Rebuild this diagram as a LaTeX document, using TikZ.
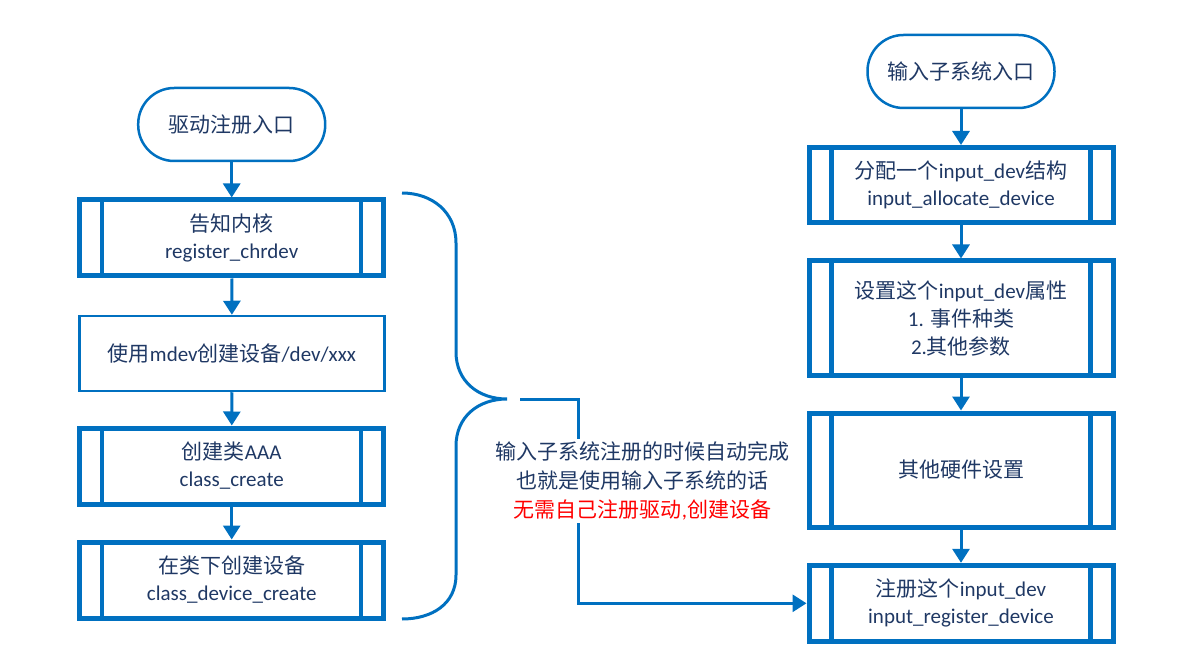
\documentclass[tikz,border=0pt]{standalone}
\usepackage{fontspec}
\setmainfont{Carlito}
\newfontfamily\cjk{Noto Sans CJK SC}
\usetikzlibrary{arrows.meta}
\definecolor{lineblue}{RGB}{0,112,192}
\definecolor{txt}{RGB}{31,56,100}
\newcommand\zh[1]{{\cjk #1}}
\begin{document}
\begin{tikzpicture}[x=1pt,y=-1pt,
  every node/.style={font=\fontsize{21}{27}\selectfont, text=txt, align=center},
  term/.style={draw=lineblue, line width=2.5pt, rounded corners=36pt, minimum width=187pt, minimum height=73pt, inner sep=0pt},
  plainbox/.style={draw=lineblue, line width=2.5pt, minimum width=305pt, minimum height=75pt, inner sep=0pt},
  pproc/.style={draw=lineblue, line width=5pt, minimum width=304pt, inner sep=0pt,
    path picture={
      \draw[lineblue, line width=4.5pt]
        ([xshift=22.5pt]path picture bounding box.north west) -- ([xshift=22.5pt]path picture bounding box.south west)
        ([xshift=-22.5pt]path picture bounding box.north east) -- ([xshift=-22.5pt]path picture bounding box.south east);
    }},
  flow/.style={draw=lineblue, line width=3pt, -{Triangle[width=17pt,length=14pt]}},
  bracestyle/.style={draw=lineblue, line width=3pt},
]
\useasboundingbox (0,0) rectangle (1200,671);

% left column
\node[term] (s1) at (231.7,124.5) {\zh{驱动注册入口}};
\node[pproc, minimum height=76pt] (b1) at (231.7,238) {\zh{告知内核}\\register\_chrdev};
\node[plainbox] (b2) at (232,353.5) {\zh{使用}mdev\zh{创建设备}/dev/xxx};
\node[pproc, minimum height=76pt] (b3) at (231.7,466) {\zh{创建类}AAA\\class\_create};
\node[pproc, minimum height=76pt] (b4) at (231.7,580) {\zh{在类下创建设备}\\class\_device\_create};

\draw[flow] (s1) -- (b1);
\draw[flow] (b1) -- (b2);
\draw[flow] (b2) -- (b3);
\draw[flow] (b3) -- (b4);

% right column
\node[term] (s2) at (961,71.5) {\zh{输入子系统入口}};
\node[pproc, minimum height=75pt] (r1) at (961,185) {\zh{分配一个}input\_dev\zh{结构}\\input\_allocate\_device};
\node[pproc, minimum height=114pt, font=\fontsize{21}{28}\selectfont] (r2) at (961,318) {\zh{设置这个}input\_dev\zh{属性}\\1. \zh{事件种类}\\2.\zh{其他参数}};
\node[pproc, minimum height=114pt] (r3) at (961,470) {\zh{其他硬件设置}};
\node[pproc, minimum height=76pt] (r4) at (961,603.3) {\zh{注册这个}input\_dev\\input\_register\_device};

\draw[flow] (s2) -- (r1);
\draw[flow] (r1) -- (r2);
\draw[flow] (r2) -- (r3);
\draw[flow] (r3) -- (r4);

% brace
\coordinate (tip) at (507,399);
\draw[bracestyle] (402,193) .. controls (432,193) and (456,212) .. (456,243)
  -- (456,352) .. controls (456,381) and (478,399) .. (tip)
  .. controls (478,399) and (456,417) .. (456,446)
  -- (456,575) .. controls (456,604) and (432,619) .. (402,619);

% connector with note
\coordinate (cstart) at (520,399);
\coordinate (bend) at (578,500);
\draw[flow] (cstart) -| (bend) |- (r4.west);
\node[fill=white, inner sep=3pt, font=\fontsize{21}{29}\selectfont] (note) at (642.5,481)
  {\zh{输入子系统注册的时候自动完成}\\\zh{也就是使用输入子系统的话}\\\textcolor{red}{\zh{无需自己注册驱动},\zh{创建设备}}};
\end{tikzpicture}
\end{document}
